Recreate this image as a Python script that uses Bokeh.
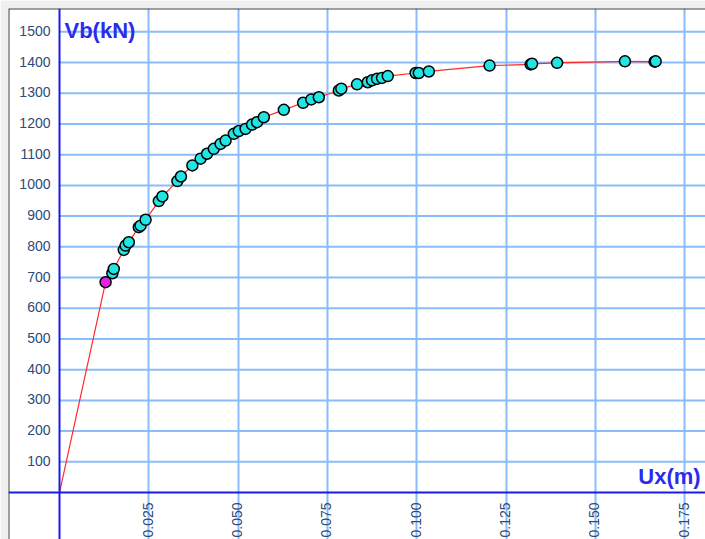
import math
from bokeh.plotting import figure
from bokeh.models import Range1d, Grid, FixedTicker, Span, Label
from bokeh.core.properties import value
from bokeh.embed import file_html
from bokeh.resources import INLINE

# Pushover curve: roof displacement Ux (m) vs base shear Vb (kN)
ux = [0.0, 0.0129, 0.0148, 0.0152, 0.0180, 0.0185, 0.0194, 0.0222, 0.0227, 0.0241,
      0.0278, 0.0288, 0.0330, 0.0340, 0.0372, 0.0395, 0.0413, 0.0432, 0.0451, 0.0465,
      0.0488, 0.0502, 0.0521, 0.0539, 0.0553, 0.0572, 0.0628, 0.0682, 0.0705, 0.0726,
      0.0782, 0.0789, 0.0833, 0.0863, 0.0875, 0.0889, 0.0903, 0.0919, 0.0997, 0.1006,
      0.1034, 0.1204, 0.1319, 0.1323, 0.1393, 0.1583, 0.1666, 0.1669]
vb = [0, 685, 714, 728, 790, 804, 815, 864, 869, 888,
      949, 964, 1014, 1029, 1065, 1087, 1103, 1119, 1135, 1146,
      1168, 1177, 1184, 1198, 1206, 1222, 1246, 1269, 1280, 1287,
      1309, 1315, 1329, 1336, 1342, 1347, 1350, 1356, 1366, 1366,
      1371, 1390, 1394, 1396, 1399, 1404, 1403, 1404]

x_ticks = [0.025, 0.050, 0.075, 0.100, 0.125, 0.150, 0.175]
x_tick_labels = ["0.025", "0.050", "0.075", "0.100", "0.125", "0.150", "0.175"]
y_ticks = [100, 200, 300, 400, 500, 600, 700, 800, 900, 1000, 1100, 1200, 1300, 1400, 1500]
y_tick_labels = [str(v) for v in y_ticks]

FONT = "Liberation Sans"
GRID = "#8abcfb"
AXIS = "#1a1ae6"
TICK_TXT = "#2e4a78"
TITLE = "#2b2bf0"

xr = Range1d(-0.014278, 0.180851)
yr = Range1d(-153.0, 1576.0)

p = figure(width=705, height=539, output_backend="svg", toolbar_location=None,
           x_range=xr, y_range=yr,
           x_axis_type=None, y_axis_type=None,
           min_border_left=8, min_border_top=8, min_border_right=0, min_border_bottom=0,
           border_fill_color="#f0f0f0", background_fill_color="white",
           outline_line_color=None)

# vertical grid lines (full height)
p.add_layout(Grid(dimension=0, ticker=FixedTicker(ticks=x_ticks),
                  grid_line_color=GRID, grid_line_width=2))
# horizontal grid lines start at the y axis and run right
p.ray(x=[0] * len(y_ticks), y=y_ticks, length=0, angle=0,
      line_color=GRID, line_width=2)

# curve
p.line(ux, vb, line_color="#ff2a2a", line_width=1.2)
p.scatter(ux[2:], vb[2:], size=11, fill_color="#22e4e4", line_color="black", line_width=1.5)
p.scatter(ux[1:2], vb[1:2], size=11, fill_color="#e620e6", line_color="black", line_width=1.5)

# axes through the origin
p.add_layout(Span(location=0, dimension="width", line_color=AXIS, line_width=2))
p.add_layout(Span(location=0, dimension="height", line_color=AXIS, line_width=2))

# window frame on the left and top edges only
p.add_layout(Span(location=xr.start, dimension="height", line_color="#404040", line_width=2))
p.add_layout(Span(location=yr.end, dimension="width", line_color="#404040", line_width=2))

# tick labels
p.text(x=[0] * len(y_ticks), y=y_ticks, text=y_tick_labels,
       text_align="right", text_baseline="middle", x_offset=-9, y_offset=-1,
       text_font=value(FONT), text_font_size="14px", text_color=TICK_TXT)
p.text(x=x_ticks, y=[0] * len(x_ticks), text=x_tick_labels, angle=math.pi / 2,
       text_align="right", text_baseline="middle", x_offset=-1, y_offset=10,
       text_font=value(FONT), text_font_size="14px", text_color=TICK_TXT)

# axis titles
p.add_layout(Label(x=0, y=y_ticks[-1], text="Vb(kN)", x_offset=5, y_offset=1,
                   text_baseline="middle", text_font=FONT, text_font_size="22px",
                   text_font_style="bold", text_color=TITLE))
p.add_layout(Label(x=x_ticks[-1], y=0, text="Ux(m)", x_offset=16, y_offset=16,
                   text_align="right", text_baseline="alphabetic", text_font=FONT,
                   text_font_size="22px", text_font_style="bold", text_color=TITLE))

open("out.html", "w").write(file_html(p, INLINE))
